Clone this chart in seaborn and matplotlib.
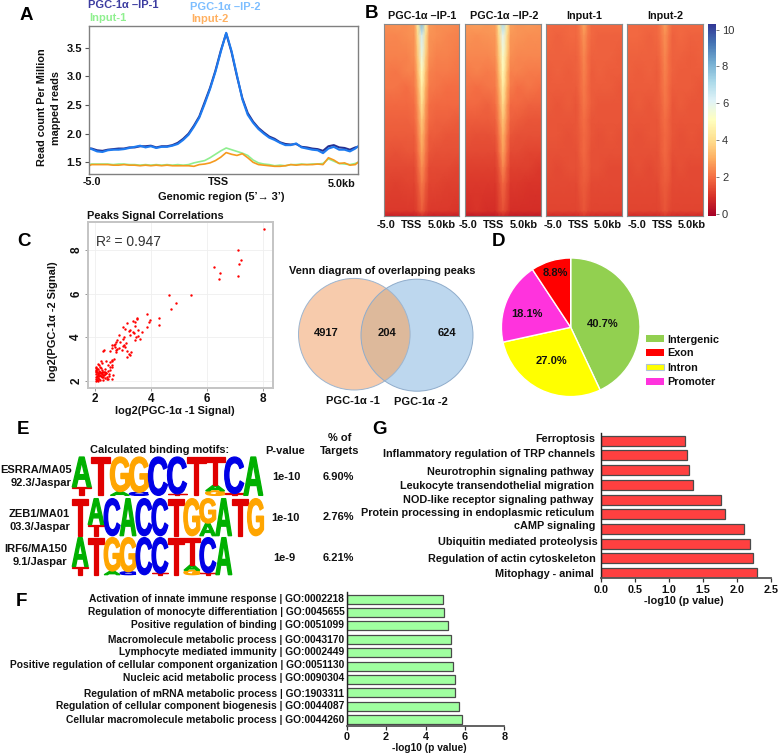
import numpy as np
import pandas as pd
import matplotlib
matplotlib.use("Agg")
import matplotlib.pyplot as plt
import seaborn as sns
from matplotlib.patches import Circle, PathPatch, Rectangle
from matplotlib.textpath import TextPath
from matplotlib.font_manager import FontProperties
from matplotlib.transforms import Affine2D
from matplotlib.cm import ScalarMappable
from matplotlib.colors import Normalize

W, H = 778, 755

# ---------- Panel A ----------
profile_x = [-5.0,-4.9,-4.7,-4.5,-4.3,-4.1,-3.9,-3.7,-3.5,-3.3,-3.1,-2.9,-2.7,-2.5,-2.3,-2.1,-1.9,-1.7,-1.5,-1.3,
             -1.1,-0.9,-0.7,-0.5,-0.3,-0.1,0.1,0.3,0.5,0.7,0.9,1.1,1.3,1.5,1.7,1.9,2.1,2.3,2.5,2.7,
             2.9,3.1,3.3,3.5,3.7,3.9,4.1,4.3,4.5,4.7,4.9,5.0]
ip1 = [1.74,1.74,1.71,1.70,1.72,1.73,1.74,1.74,1.76,1.76,1.78,1.78,1.79,1.76,1.78,1.78,1.80,1.84,1.91,2.00,
       2.14,2.30,2.55,2.80,3.10,3.45,3.75,3.42,3.00,2.62,2.36,2.21,2.10,2.02,1.95,1.91,1.85,1.82,1.81,1.82,
       1.77,1.76,1.74,1.73,1.70,1.78,1.80,1.76,1.75,1.72,1.76,1.77]
ip2 = [1.75,1.73,1.69,1.68,1.71,1.72,1.72,1.73,1.75,1.77,1.79,1.76,1.78,1.75,1.77,1.77,1.79,1.82,1.89,1.98,
       2.12,2.28,2.52,2.78,3.08,3.43,3.76,3.44,3.02,2.60,2.33,2.19,2.08,2.00,1.93,1.89,1.84,1.80,1.80,1.83,
       1.76,1.74,1.72,1.71,1.66,1.74,1.77,1.72,1.72,1.69,1.74,1.78]
in1 = [1.46,1.47,1.47,1.47,1.47,1.46,1.47,1.47,1.46,1.46,1.45,1.46,1.45,1.46,1.45,1.46,1.45,1.46,1.45,1.46,
       1.49,1.51,1.53,1.58,1.64,1.70,1.75,1.72,1.69,1.66,1.62,1.54,1.49,1.47,1.46,1.44,1.45,1.44,1.46,1.46,
       1.47,1.46,1.47,1.47,1.48,1.56,1.52,1.48,1.47,1.46,1.48,1.50]
in2 = [1.44,1.46,1.46,1.46,1.46,1.45,1.45,1.46,1.45,1.45,1.44,1.45,1.44,1.45,1.44,1.45,1.44,1.44,1.44,1.44,
       1.43,1.46,1.47,1.49,1.53,1.59,1.67,1.64,1.62,1.65,1.58,1.50,1.46,1.45,1.44,1.43,1.43,1.44,1.46,1.45,
       1.46,1.46,1.46,1.47,1.46,1.58,1.54,1.48,1.49,1.45,1.46,1.50]
profile_yticks = [1.5, 2.0, 2.5, 3.0, 3.5]

# ---------- Panel B ----------
hm_cols = [0, .15, .3, .4, .445, .5, .555, .6, .7, .85, 1]
hm_rows = [0, .06, .17, .25, .33, .42, .5, .58, .67, .75, .83, .975, 1.0]
hm_ip1 = [
 [2.5,2.6,2.5,2.7,4.4,8.0,4.5,2.7,2.5,2.5,2.4],
 [2.4,2.4,2.5,2.6,3.9,6.4,4.0,2.6,2.5,2.4,2.3],
 [2.3,2.3,2.3,2.5,3.5,5.7,3.6,2.5,2.3,2.3,2.2],
 [2.2,2.1,2.3,2.3,3.2,5.1,3.3,2.3,2.2,2.2,2.1],
 [2.1,2.1,2.0,2.2,2.9,4.6,3.0,2.2,2.1,2.0,2.0],
 [1.9,1.9,1.9,2.0,2.6,4.1,2.7,2.0,1.9,1.9,1.9],
 [1.8,1.8,1.8,1.9,2.4,3.6,2.5,1.9,1.8,1.8,1.7],
 [1.7,1.7,1.7,1.7,2.2,3.2,2.3,1.7,1.7,1.6,1.6],
 [1.6,1.5,1.6,1.6,2.0,2.9,2.1,1.6,1.5,1.5,1.5],
 [1.4,1.4,1.4,1.4,1.8,2.5,1.9,1.4,1.4,1.4,1.3],
 [1.3,1.2,1.3,1.3,1.6,2.2,1.7,1.3,1.3,1.2,1.2],
 [1.1,1.1,1.1,1.1,1.3,1.7,1.3,1.1,1.1,1.1,1.0],
 [0.6,0.6,0.6,0.6,0.7,0.8,0.7,0.6,0.6,0.6,0.6]]
hm_ip2 = [
 [2.7,2.8,2.7,2.8,4.3,7.2,4.4,2.8,2.6,2.7,2.6],
 [2.6,2.5,2.6,2.7,3.9,6.0,4.0,2.7,2.6,2.5,2.5],
 [2.4,2.4,2.4,2.5,3.5,5.3,3.7,2.5,2.4,2.4,2.4],
 [2.2,2.3,2.2,2.3,3.2,4.9,3.3,2.3,2.3,2.2,2.2],
 [2.1,2.0,2.1,2.2,2.9,4.5,3.0,2.2,2.0,2.1,2.0],
 [1.9,1.9,1.8,2.0,2.6,4.0,2.7,1.9,1.9,1.8,1.8],
 [1.7,1.7,1.7,1.8,2.4,3.5,2.5,1.8,1.7,1.6,1.6],
 [1.6,1.5,1.5,1.6,2.1,3.1,2.2,1.6,1.5,1.5,1.5],
 [1.4,1.4,1.4,1.4,1.9,2.8,2.0,1.4,1.4,1.3,1.3],
 [1.2,1.2,1.2,1.2,1.6,2.4,1.7,1.2,1.2,1.2,1.1],
 [1.1,1.1,1.1,1.1,1.4,1.9,1.5,1.1,1.1,1.0,1.0],
 [0.9,1.0,0.9,0.9,1.2,1.5,1.2,0.9,0.9,0.9,0.9],
 [0.5,0.5,0.5,0.5,0.6,0.7,0.6,0.5,0.5,0.5,0.5]]
hm_in1 = [
 [1.9,1.9,1.9,1.9,2.2,2.9,2.2,1.9,1.9,1.9,1.9],
 [1.9,1.8,1.9,1.9,2.1,2.6,2.1,1.9,1.8,1.8,1.8],
 [1.8,1.8,1.8,1.8,2.0,2.4,2.0,1.8,1.8,1.8,1.7],
 [1.7,1.8,1.7,1.8,1.9,2.3,2.0,1.7,1.8,1.7,1.7],
 [1.7,1.7,1.7,1.7,1.9,2.2,1.9,1.7,1.7,1.7,1.6],
 [1.7,1.6,1.7,1.6,1.8,2.1,1.9,1.7,1.6,1.6,1.6],
 [1.6,1.6,1.6,1.6,1.8,2.0,1.8,1.6,1.6,1.6,1.6],
 [1.6,1.6,1.5,1.6,1.7,1.9,1.8,1.6,1.5,1.6,1.5],
 [1.5,1.5,1.5,1.5,1.7,1.9,1.7,1.5,1.5,1.5,1.5],
 [1.5,1.4,1.5,1.5,1.6,1.8,1.7,1.5,1.5,1.4,1.4],
 [1.4,1.4,1.4,1.4,1.6,1.7,1.6,1.4,1.4,1.4,1.4],
 [1.3,1.3,1.3,1.3,1.4,1.6,1.4,1.3,1.3,1.3,1.3],
 [0.8,0.8,0.8,0.8,0.9,1.0,0.9,0.8,0.8,0.8,0.8]]
hm_in2 = [
 [1.9,1.9,1.9,1.9,2.2,2.8,2.2,1.9,1.9,1.9,1.9],
 [1.9,1.9,1.8,1.9,2.1,2.5,2.1,1.8,1.9,1.8,1.8],
 [1.8,1.8,1.8,1.8,2.0,2.4,2.0,1.8,1.8,1.7,1.8],
 [1.8,1.7,1.8,1.7,1.9,2.3,2.0,1.8,1.7,1.7,1.7],
 [1.7,1.7,1.7,1.7,1.9,2.2,1.9,1.7,1.7,1.7,1.6],
 [1.6,1.7,1.6,1.7,1.8,2.1,1.9,1.6,1.7,1.6,1.6],
 [1.6,1.6,1.6,1.6,1.8,2.0,1.8,1.6,1.6,1.6,1.6],
 [1.6,1.5,1.6,1.6,1.7,1.9,1.8,1.6,1.5,1.6,1.5],
 [1.5,1.5,1.5,1.5,1.7,1.9,1.7,1.5,1.5,1.5,1.5],
 [1.4,1.5,1.4,1.5,1.6,1.8,1.7,1.4,1.5,1.4,1.4],
 [1.4,1.4,1.4,1.4,1.6,1.7,1.6,1.4,1.4,1.4,1.4],
 [1.3,1.3,1.3,1.3,1.4,1.6,1.4,1.3,1.3,1.3,1.3],
 [0.8,0.8,0.8,0.8,0.9,1.0,0.9,0.8,0.8,0.8,0.8]]
hm_titles = ["PGC-1α –IP-1", "PGC-1α –IP-2", "Input-1", "Input-2"]

# ---------- Panel C ----------
sc_x = [8.06,7.12,7.23,7.15,7.13,6.25,6.49,6.43,5.42,4.66,4.90,4.72,3.85,3.52,3.49,3.37,3.43,3.13,3.97,3.95,
        4.30,4.30,3.85,2.99,3.07,3.43,3.25,3.21,3.35,3.55,3.70,3.55,3.40,3.48,3.60,3.25,3.05,3.02,3.05,2.85,
        2.80,2.90,2.75,2.72,2.70,2.62,2.60,2.75,3.00,3.08,3.13,3.25,3.30,3.45,3.15,2.80,2.75,2.68,2.55,2.40,
        2.33,2.30,2.65,2.55,2.62,2.48,2.40,2.35,2.60,2.62,2.55,2.50,2.45,2.35,2.30,2.25,2.20,2.15,2.10,2.05,
        2.05,2.08,2.12,2.18,2.22,2.28,2.35,2.42,2.50,2.05,2.03,2.08,2.12,2.16,2.20,2.24,2.30,2.36,2.42,2.05,
        2.03,2.10,2.14,2.18,2.26,2.32,2.38,2.03,2.06,2.10,2.15,2.22,2.04,2.07,2.12,2.18,2.26,2.04,2.08,2.14,
        2.62,2.48,2.18,2.12,2.06,2.25,2.30,2.34,3.12,3.22,2.95,2.85,2.68,2.60,2.55]
sc_y = [8.94,8.02,7.56,7.36,6.81,7.20,6.96,6.67,5.94,5.94,5.57,5.28,5.06,4.89,4.83,4.76,4.71,4.63,4.80,4.68,
        4.88,4.54,4.48,4.45,4.37,4.53,4.32,4.30,4.22,4.35,4.22,4.05,4.20,4.02,3.90,4.08,4.02,3.92,3.62,4.08,
        3.88,3.80,3.78,3.70,3.55,3.62,3.48,3.40,3.58,3.55,3.35,3.20,3.32,3.88,3.10,3.45,3.30,3.00,2.85,2.90,
        3.40,3.35,2.25,2.50,2.70,2.72,2.35,2.42,2.62,2.90,3.35,2.30,2.45,2.55,2.38,2.82,2.90,2.70,2.78,2.65,
        2.50,2.42,2.35,2.28,2.20,2.15,2.12,2.10,2.22,2.10,2.00,2.05,2.12,2.20,2.35,2.50,2.05,2.30,2.15,2.30,
        2.18,2.55,2.45,2.62,2.40,2.28,2.36,2.38,2.22,2.30,2.10,2.60,2.60,2.05,2.00,2.05,2.33,2.45,2.15,2.35,
        2.08,2.10,2.42,2.25,2.55,2.15,2.25,2.42,3.75,3.22,3.40,3.50,3.62,2.95,2.62]

# ---------- Venn & pie ----------
venn_counts = [4917, 204, 624]
venn_names = ["PGC-1α -1", "PGC-1α -2"]
pie_labels = ["Intergenic", "Intron", "Promoter", "Exon"]
pie_values = [40.7, 27.0, 18.1, 8.8]
pie_colors = ["#92D050", "#FFFF00", "#FF33DD", "#FF0000"]
legend_order = ["Intergenic", "Exon", "Intron", "Promoter"]

# ---------- Panel E ----------
motif1 = [{"T":.22,"A":.78},{"T":1},{"A":.1,"G":.9},{"C":.08,"G":.92},{"C":1},{"T":.04,"C":.96},{"T":1},
          {"G":.12,"A":.14,"T":.74},{"T":.05,"C":.95},{"A":1}]
motif2 = [{"T":1},{"T":.3,"A":.7},{"C":1},{"A":1},{"C":1},{"C":1},{"T":1},{"G":1},{"A":.34,"G":.66},{"A":1},{"T":1},{"G":1}]
motif3 = [{"T":.22,"A":.78},{"T":1},{"A":.1,"G":.9},{"C":.08,"G":.92},{"C":1},{"T":.04,"C":.96},{"T":1},
          {"G":.12,"A":.14,"T":.74},{"T":.05,"C":.95},{"A":1}]
motif_pvalues = ["1e-10", "1e-10", "1e-9"]
motif_targets = ["6.90%", "2.76%", "6.21%"]
base_colors = {"A": "#00B000", "T": "#E00000", "G": "#FFA500", "C": "#0000E6"}

# ---------- Panel F, G ----------
go_labels = ["Activation of innate immune response | GO:0002218",
             "Regulation of monocyte differentiation | GO:0045655",
             "Positive regulation of binding | GO:0051099",
             "Macromolecule metabolic process | GO:0043170",
             "Lymphocyte mediated immunity | GO:0002449",
             "Positive regulation of cellular component organization | GO:0051130",
             "Nucleic acid metabolic process | GO:0090304",
             "Regulation of mRNA metabolic process | GO:1903311",
             "Regulation of cellular component biogenesis | GO:0044087",
             "Cellular macromolecule metabolic process | GO:0044260"]
go_values = [4.89, 4.94, 5.13, 5.28, 5.31, 5.41, 5.48, 5.50, 5.70, 5.84]
kegg_labels = ["Ferroptosis", "Inflammatory regulation of TRP channels", "Neurotrophin signaling pathway",
               "Leukocyte transendothelial migration", "NOD-like receptor signaling pathway",
               "Protein processing in endoplasmic reticulum", "cAMP signaling", "Ubiquitin mediated proteolysis",
               "Regulation of actin cytoskeleton", "Mitophagy - animal"]
kegg_values = [1.24, 1.26, 1.29, 1.35, 1.76, 1.83, 2.11, 2.19, 2.24, 2.30]

sns.set_theme(style="white")
plt.rcParams["font.family"] = ["Liberation Sans", "DejaVu Sans"]
plt.rcParams["font.weight"] = "bold"
plt.rcParams["axes.labelweight"] = "bold"

fig = plt.figure(figsize=(W / 100, H / 100), dpi=100)
fig.patch.set_facecolor("white")


def rect_axes(x0, y0, x1, y1, **kw):
    return fig.add_axes([x0 / W, 1 - y1 / H, (x1 - x0) / W, (y1 - y0) / H], **kw)


ov = fig.add_axes([0, 0, 1, 1], zorder=20)
ov.set_xlim(0, W)
ov.set_ylim(H, 0)
ov.axis("off")
ov.patch.set_alpha(0)


def T(x, y, s, size=7.9, ha="center", weight="bold", color="#111111", rot=0):
    ov.text(x, y, s, fontsize=size, ha=ha, va="center", fontweight=weight, color=color, rotation=rot)


# Panel letters
for x, y, s in [(26, 15, "A"), (371.7, 14, "B"), (24, 241, "C"), (498.7, 241.7, "D"),
                (23.3, 430, "E"), (21.7, 601.7, "F"), (380, 430, "G")]:
    T(x, y, s, size=13.5, color="black")

# ---------- A ----------
axA = rect_axes(89, 26, 358, 174)
for vals, col, lw in [(ip1, "#27308F", 1.5), (ip2, "#1E7BF0", 1.5), (in1, "#8FEE8F", 1.2), (in2, "#F59A1E", 1.2)]:
    sns.lineplot(x=profile_x, y=vals, ax=axA, color=col, lw=lw, errorbar=None, estimator=None, sort=False)
axA.set_xlim(-5, 5)
axA.set_ylim(1.296, 3.879)
axA.set_xticks([])
axA.set_yticks(profile_yticks, [f"{v:.1f}" for v in profile_yticks], fontsize=8, fontweight="bold", color="#111111")
axA.tick_params(axis="y", length=3, width=0.8, color="#555555", pad=2, left=True)
for s in axA.spines.values():
    s.set_color("#808080")
    s.set_linewidth(1.0)
T(123.3, 5, "PGC-1α –IP-1", color="#3C3CA0", size=8)
T(225.7, 7, "PGC-1α –IP-2", color="#7DBEFF", size=8)
T(108.3, 18.3, "Input-1", color="#90F090", size=8)
T(210, 19, "Input-2", color="#FFB060", size=8)
T(91.7, 182.3, "-5.0", size=7.8)
T(218, 182.3, "TSS", size=7.8)
T(341.7, 183.7, "5.0kb", size=7.8)
T(221.7, 196.7, "Genomic region (5’→ 3’)", size=7.9)
T(42.3, 106.7, "Read count Per Million", size=7.8, rot=90)
T(56, 108.3, "mapped reads", size=7.8, rot=90)

# ---------- B ----------
hm_x = [(384.3, 459.3), (465.3, 540.7), (546.3, 621.7), (627.3, 702.7)]
hm_data = [hm_ip1, hm_ip2, hm_in1, hm_in2]
hm_title_x = [421.7, 504.3, 584, 665.3]
hm_tick_x = [(386, 411.7, 441.7), (468.3, 493.3, 523.3), (553.3, 578.3, 607.7), (636.7, 662.3, 691.7)]
norm = Normalize(-0.1, 10.3)
for (x0, x1), mat, tx, ttl, ticks in zip(hm_x, hm_data, hm_title_x, hm_titles, hm_tick_x):
    ax = rect_axes(x0, 24, x1, 216)
    ax.pcolormesh(hm_cols, hm_rows, np.array(mat), cmap="RdYlBu", norm=norm, shading="gouraud")
    ax.set_xlim(0, 1)
    ax.set_ylim(1, 0)
    ax.set_xticks([])
    ax.set_yticks([])
    for s in ax.spines.values():
        s.set_color("#8A8A8A")
        s.set_linewidth(0.8)
    T(tx, 16, ttl, size=7.8)
    for px, lab in zip(ticks, ["-5.0", "TSS", "5.0kb"]):
        T(px, 225, lab, size=7.9)
cax = rect_axes(708.3, 24, 715.7, 216)
cb = fig.colorbar(ScalarMappable(norm=norm, cmap="RdYlBu"), cax=cax)
cb.set_ticks([0, 2, 4, 6, 8, 10])
cb.ax.tick_params(labelsize=8, length=2.5, width=0.6, color="#666666", pad=2, right=True, labelcolor="#333333")
for t in cb.ax.get_yticklabels():
    t.set_fontweight("normal")
cb.outline.set_visible(False)

# ---------- C ----------
axC = rect_axes(87.7, 222.3, 273, 387.7)
axC.grid(True, color="#EFEFEF", lw=0.6)
axC.set_axisbelow(True)
sns.scatterplot(x=sc_x, y=sc_y, ax=axC, color="red", s=3, linewidth=0, zorder=3)
axC.set_xlim(1.74, 8.37)
axC.set_ylim(1.68, 9.27)
axC.set_xticks([2, 4, 6, 8], ["2", "4", "6", "8"], fontsize=8.5, fontweight="bold", color="#111111")
axC.set_yticks([2, 4, 6, 8], ["2", "4", "6", "8"], fontsize=8.5, fontweight="bold", color="#111111",
               rotation=90, va="center")
axC.tick_params(length=2, width=0.6, color="#888888", pad=2, bottom=True, left=True)
for s in axC.spines.values():
    s.set_color("#C4C4C4")
    s.set_linewidth(1.4)
T(87.3, 216, "Peaks Signal Correlations", size=7.9, ha="left")
T(128.3, 242.3, "R² = 0.947", size=10, weight="normal", color="#333333")
T(175, 410.7, "log2(PGC-1α -1 Signal)", size=7.9)
T(52.7, 320.7, "log2(PGC-1α -2 Signal)", size=7.9, rot=90)

# ---------- Venn ----------
ov.add_patch(Circle((354.3, 334.2), 55.8, fc="#F7CBAC", ec="none", zorder=1))
ov.add_patch(Circle((417, 335.2), 56, fc="#BDD7EE", ec="none", zorder=1))
clip = Circle((354.3, 334.2), 55.8, transform=ov.transData)
lens = Circle((417, 335.2), 56, fc="#DDB99B", ec="none", zorder=2)
ov.add_patch(lens)
lens.set_clip_path(clip)
ov.add_patch(Circle((354.3, 334.2), 55.8, fc="none", ec="#9DB5CF", lw=0.7, zorder=3))
ov.add_patch(Circle((417, 335.2), 56, fc="none", ec="#8FACCB", lw=0.7, zorder=3))
T(382.3, 271, "Venn diagram of overlapping peaks", size=7.9)
for px, n in zip([326.7, 387, 447.3], venn_counts):
    T(px, 332.5, str(n), size=8)
T(353.3, 400.7, venn_names[0], size=8)
T(421.3, 401.7, venn_names[1], size=8)

# ---------- D ----------
R = 69.3
axD = rect_axes(570.7 - R, 327.3 - R, 570.7 + R, 327.3 + R)
axD.pie(pie_values, colors=pie_colors, startangle=90, counterclock=False, radius=1,
        wedgeprops=dict(edgecolor="white", linewidth=1.0))
axD.set_xlim(-1, 1)
axD.set_ylim(-1, 1)
for (px, py), v in zip([(602.7, 324), (551.7, 360.7), (527.3, 313.7), (555.3, 273.3)], pie_values):
    T(px, py, f"{v:.1f}%", size=8)
col_by_label = dict(zip(pie_labels, pie_colors))
for lab, y0, y1, ty in zip(legend_order, [335, 348.7, 363.7, 378], [342.3, 355.7, 370.3, 385], [339.7, 353, 367.7, 382.3]):
    ov.add_patch(Rectangle((645.7, y0), 18.3, y1 - y0, fc=col_by_label[lab], ec="#AFC3DA" if lab == "Intron" else "none", lw=0.8))
    T(667.7, ty, lab, size=7.8, ha="left")

# ---------- E ----------
fp = FontProperties(family="Liberation Sans", weight="bold")


def draw_logo(x0, y0, x1, y1, motif):
    ax = rect_axes(x0, y0, x1, y1)
    ax.set_xlim(0, len(motif))
    ax.set_ylim(0, 1)
    ax.axis("off")
    for i, col in enumerate(motif):
        bottom = 0.0
        for base, h in col.items():
            tp = TextPath((0, 0), base, size=1, prop=fp)
            bb = tp.get_extents()
            tr = Affine2D().translate(-bb.x0, -bb.y0).scale(1.0 / bb.width, h / bb.height).translate(i, bottom)
            ax.add_patch(PathPatch(tp, fc=base_colors[base], ec=base_colors[base], lw=0.9,
                                   transform=tr + ax.transData, clip_on=False))
            bottom += h


draw_logo(72.2, 457, 262.8, 495.4, motif1)
draw_logo(72.2, 498.6, 263.5, 535.7, motif2)
draw_logo(72.2, 537.6, 231.8, 574.7, motif3)
T(160, 450, "Calculated binding motifs:", size=7.9)
T(285, 451, "P-value", size=8)
T(339.3, 437.7, "% of", size=8)
T(339.3, 451, "Targets", size=8)
T(71.7, 470, "ESRRA/MA05", size=8, ha="right")
T(71.7, 483.3, "92.3/Jaspar", size=8, ha="right")
T(39.3, 513.7, "ZEB1/MA01", size=8)
T(40, 527, "03.3/Jaspar", size=8)
T(67.7, 549.3, "IRF6/MA150", size=8, ha="right")
T(67.7, 562.3, "9.1/Jaspar", size=8, ha="right")
for (px, py), p in zip([(286.7, 477.3), (285.3, 517.7), (284.3, 558.3)], motif_pvalues):
    T(px, py, p, size=8)
for py, t in zip([476.7, 517.3, 557.7], motif_targets):
    T(338.7, py, t, size=8)


# ---------- F, G ----------
def hbar(rect, labels, vals, color, xlim, xticks, xfmt, y_first, step, height):
    ax = rect_axes(*rect)
    df = pd.DataFrame({"term": labels, "value": vals})
    sns.barplot(data=df, y="term", x="value", ax=ax, color=color, saturation=1, orient="h",
                width=height / step, edgecolor="#4A4A4A", linewidth=0.9)
    top, bottom = rect[1], rect[3]
    ax.set_ylim((bottom - y_first) / step, (top - y_first) / step)
    ax.set_xlim(*xlim)
    ax.set_xticks(xticks, [xfmt.format(v) for v in xticks], fontsize=7.8, fontweight="bold", color="#111111")
    ax.set_yticks([])
    ax.set_xlabel("")
    ax.set_ylabel("")
    ax.tick_params(axis="x", length=3, width=0.9, color="#333333", pad=1.5, bottom=True)
    for s in ["top", "right"]:
        ax.spines[s].set_visible(False)
    ax.spines["left"].set_color("#222222")
    ax.spines["left"].set_linewidth(1.0)
    ax.spines["bottom"].set_color("#555555")
    ax.spines["bottom"].set_linewidth(1.3)
    return ax


hbar((600.7, 432.7, 771, 578.3), kegg_labels, kegg_values, "#FF4040", (0, 2.5),
     [0, 0.5, 1, 1.5, 2, 2.5], "{:.1f}", 440.7, 14.7, 10)
hbar((346.7, 591.7, 504.3, 725.7), go_labels, go_values, "#A0FFA0", (0, 8),
     [0, 2, 4, 6, 8], "{:d}", 599, 13.4, 9)

kegg_right = [595.3, 595.3, 594, 594, 594, 594, 595.3, 597.3, 595.3, 594.3]
kegg_y = [438.7, 454.3, 472, 486, 500.3, 513.3, 526.3, 542, 558.7, 574]
for lab, rx, ly in zip(kegg_labels, kegg_right, kegg_y):
    T(rx, ly, lab, size=7.8, ha="right")
T(684, 600.5, "-log10 (p value)", size=7.8)

go_y = [599.3, 611.7, 624.7, 640, 652.3, 665.3, 677.7, 693.7, 705.7, 720]
for lab, ly in zip(go_labels, go_y):
    T(344.3, ly, lab, size=7.4, ha="right")
T(429, 748.3, "-log10 (p value)", size=7.3)

fig.savefig("out.png", dpi=100)
